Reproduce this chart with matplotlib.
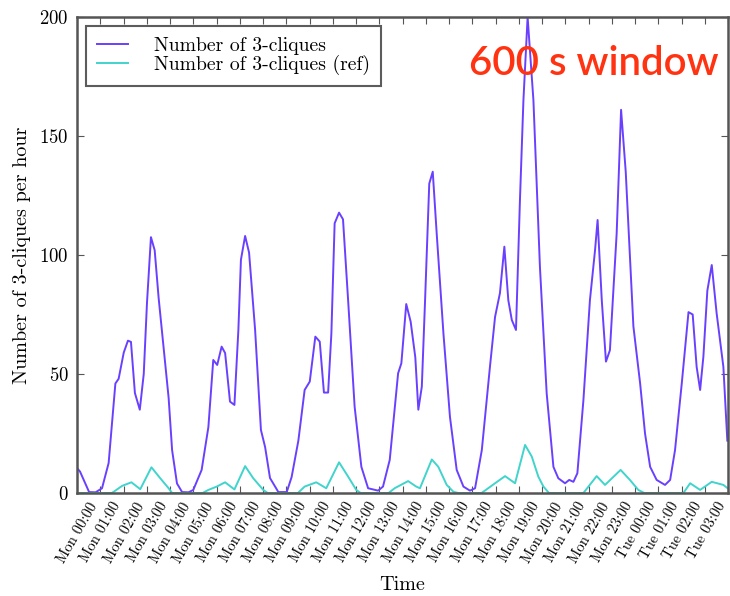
import matplotlib
matplotlib.use("Agg")
import matplotlib.pyplot as plt

# Hours since Monday 00:00 and clique counts per hour (600 s window)
hours = [-1.0, -0.87, -0.48, -0.2, 0.075, 0.36, 0.65, 0.79, 1.01, 1.19, 1.32, 1.49, 1.70, 1.87,
         2.01, 2.18, 2.34, 2.51, 2.94, 3.09, 3.30, 3.52, 3.8, 4.0, 4.36, 4.65, 4.86, 5.03, 5.22,
         5.37, 5.58, 5.77, 5.94, 6.05, 6.23, 6.40, 6.66, 6.91, 7.09, 7.30, 7.66, 8.02, 8.23, 8.52,
         8.79, 9.01, 9.25, 9.44, 9.62, 9.80, 9.94, 10.08, 10.27, 10.44, 10.66, 10.94, 11.23, 11.52,
         11.95, 12.16, 12.45, 12.81, 12.95, 13.16, 13.35, 13.55, 13.68, 13.83, 13.97, 14.15, 14.30,
         14.47, 14.76, 15.04, 15.33, 15.62, 15.9, 16.12, 16.41, 16.76, 16.98, 17.19, 17.38, 17.55,
         17.70, 17.88, 18.05, 18.2, 18.38, 18.63, 18.91, 19.2, 19.49, 19.7, 19.99, 20.17, 20.35,
         20.52, 20.78, 21.06, 21.28, 21.39, 21.57, 21.75, 21.92, 22.21, 22.40, 22.6, 22.93, 23.22,
         23.43, 23.65, 23.93, 24.29, 24.51, 24.72, 25.01, 25.30, 25.48, 25.65, 25.80, 25.94, 26.11,
         26.30, 26.51, 26.80, 26.97]
cliques = [10.5, 9, 0.4, 0.3, 2, 12.6, 46, 48, 59, 64, 63.5, 42, 35, 50,
           80, 107.5, 102, 82, 40, 18, 4, 0.4, 0.3, 1.3, 9.7, 27.7, 55.9, 53.8, 61.5,
           58.8, 38.4, 37, 68.5, 98, 108, 101, 68.5, 26.5, 19.3, 6.3, 0.4, 0.4, 6.7, 22,
           43.3, 46.8, 65.7, 63.6, 42.2, 42.2, 67, 113.3, 117.8, 115, 81, 36.3, 11, 2,
           1, 2.7, 13.9, 50.3, 54.5, 79.4, 72, 57, 35, 44.7, 81, 130, 135,
           109, 67, 32, 9.7, 2.7, 1, 2, 18, 53, 74, 84, 103.5, 81,
           72.7, 68.5, 123, 165, 200, 165, 95, 41.9, 11, 6.2, 4.1, 5.5, 4.7,
           8.3, 39, 81, 102, 114.7, 81, 55.2, 60, 109, 161, 135, 70, 46,
           25, 11, 5.5, 3.4, 5.5, 18, 46, 76, 75, 53, 43.3, 57.3, 85,
           95.8, 75.5, 53, 22]

ref_hours = [-1, 0.5, 0.94, 1.34, 1.72, 2.2, 2.58, 2.94, 3.09, 4.4, 4.65, 5.01, 5.37, 5.77,
             6.23, 6.58, 7.01, 7.2, 8.5, 8.79, 9.29, 9.72, 10.27, 10.66, 11.01, 11.2, 12.4,
             12.66, 13.24, 13.59, 13.75, 14.26, 14.54, 14.9, 15.19, 15.4, 16.4, 16.98, 17.41,
             17.84, 18.27, 18.56, 18.84, 19.06, 19.3, 20.78, 21.35, 21.71, 22.38, 22.78, 23.14,
             23.4, 25.08, 25.37, 25.80, 26.3, 26.8, 26.97]
ref_cliques = [0, 0, 3, 4.5, 1.6, 10.8, 6.2, 2, 0, 0, 1.3, 2.7, 4.5, 1.5,
               11.3, 6.2, 1.3, 0, 0, 2.7, 4.5, 2, 12.9, 6.9, 1.3, 0, 0,
               2, 5, 2.7, 2, 14.1, 11, 3.4, 0.5, 0, 0, 4.1, 7.1,
               4.1, 20.2, 15.3, 6.9, 2.7, 0, 0, 7.1, 3.4, 9.7, 5.5, 1.3,
               0, 0, 4.1, 1.3, 4.7, 3.4, 2.1]

tick_hours = list(range(28))
tick_labels = ["Mon %02d:00" % h for h in range(24)] + ["Tue %02d:00" % h for h in range(4)]

plt.rcParams["font.family"] = "cmr10"
plt.rcParams["axes.formatter.use_mathtext"] = True
plt.rcParams["mathtext.fontset"] = "cm"

fig = plt.figure(figsize=(7.3, 5.96), dpi=100)
ax = fig.add_axes([0.1055, 0.1728, 0.8918, 0.7987])

ax.plot(hours, cliques, color="#6a40ff", lw=1.4, label="Number of 3-cliques")
ax.plot(ref_hours, ref_cliques, color="#40d4cc", lw=1.4, label="Number of 3-cliques (ref)")

ax.set_xlim(-1, 27)
ax.set_ylim(0, 200)
ax.set_yticks([0, 50, 100, 150, 200])
ax.set_xticks(tick_hours)
ax.set_xticklabels(tick_labels, rotation=60, ha="right", fontsize=10.5)
ax.tick_params(axis="x", pad=5)
ax.tick_params(axis="y", labelsize=13.5, pad=6)
ax.tick_params(direction="in", top=True, right=True, length=5, width=0.8, color="#555555")

for s in ax.spines.values():
    s.set_linewidth(1.8)
    s.set_color("#555555")

ax.set_xlabel("Time", fontsize=14.5, labelpad=8)
ax.set_ylabel("Number of 3-cliques per hour", fontsize=14.5, labelpad=6)

leg = ax.legend(loc="upper left", fontsize=14.2, handlelength=1.6, handletextpad=1.3,
                borderaxespad=0.45, fancybox=False, labelspacing=0.0, borderpad=0.55)
leg.get_frame().set_edgecolor("#333333")
leg.get_frame().set_linewidth(1.5)

ax.text(0.985, 0.903, "600 s window", transform=ax.transAxes, ha="right", va="center",
        fontsize=29, color="#ff3311", family="Lato", fontweight="semibold")

fig.savefig("out.png", dpi=100)
